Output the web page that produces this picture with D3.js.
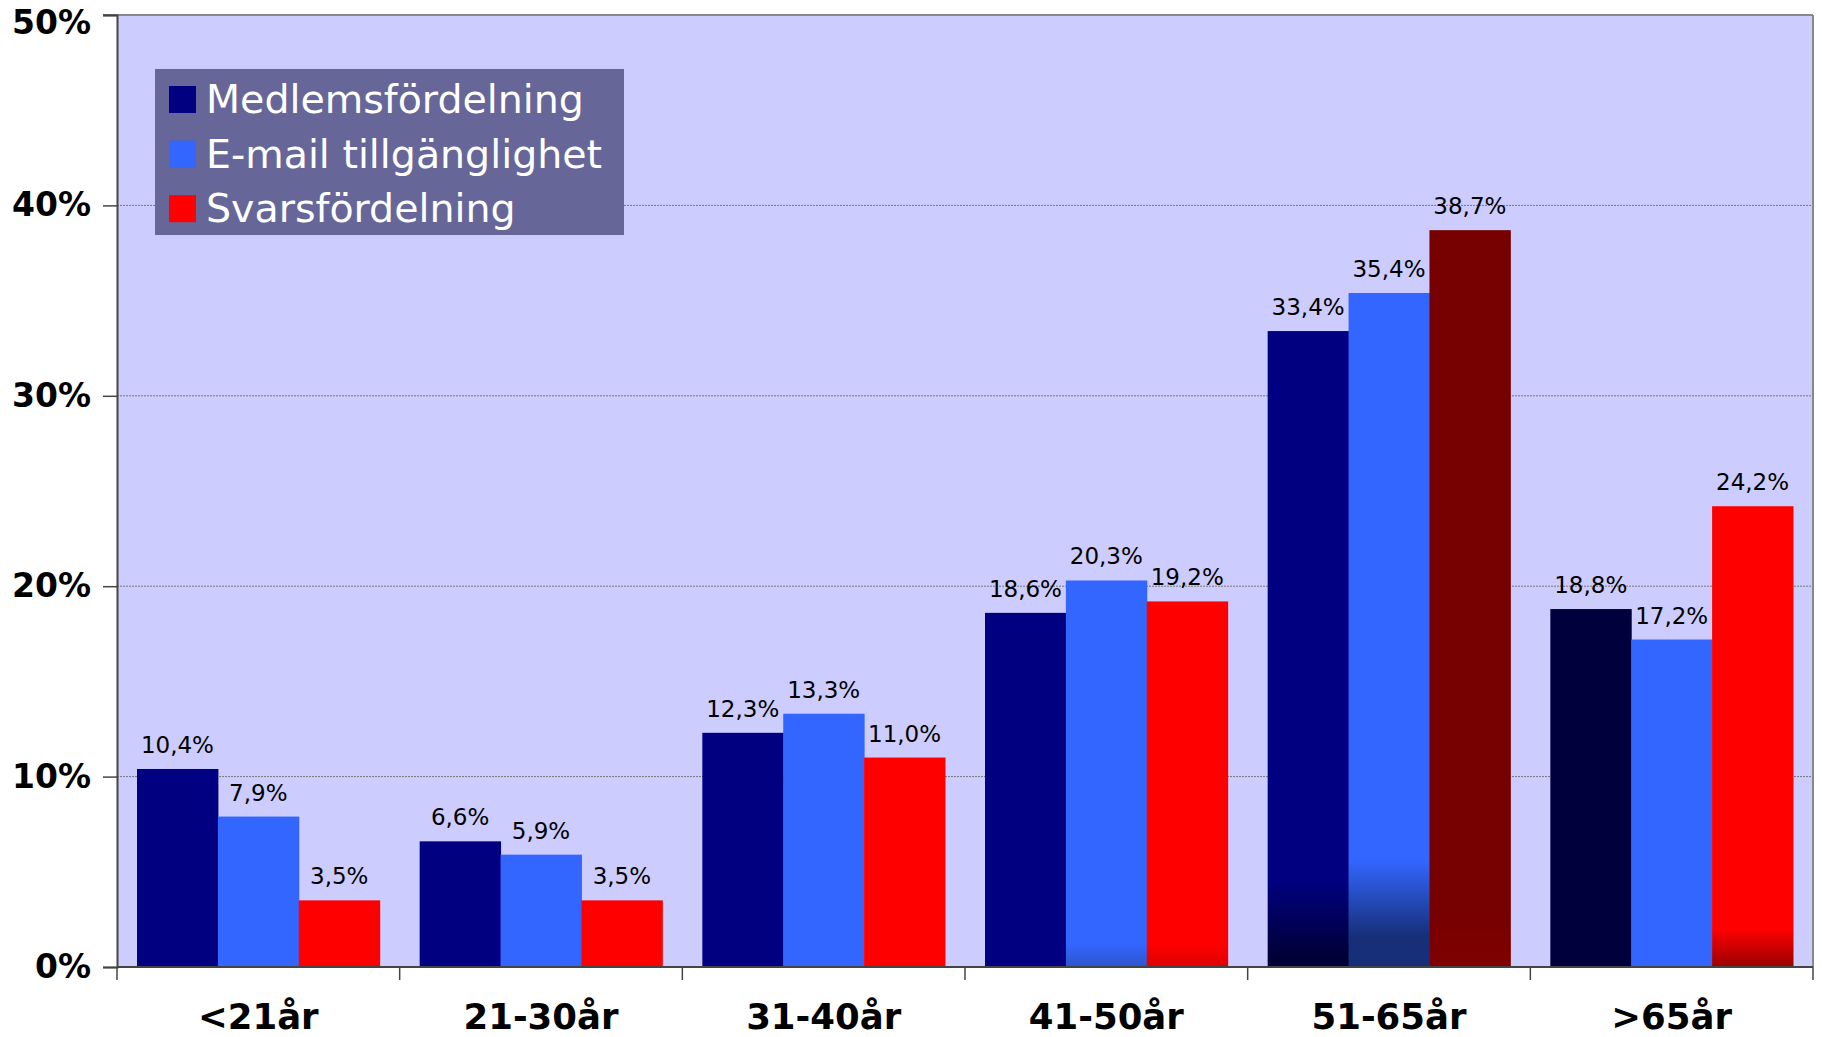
<!DOCTYPE html>
<html>
<head>
<meta charset="utf-8">
<script src="https://cdn.jsdelivr.net/npm/d3@7"></script>
<style>
  body { margin: 0; background: #fff; }
</style>
</head>
<body>
<script>
var width = 1822;
var height = 1037;

var categories = ['<21år', '21-30år', '31-40år', '41-50år', '51-65år', '>65år'];
var seriesNames = ['Medlemsfördelning', 'E-mail tillgänglighet', 'Svarsfördelning'];
var medlemsValues = [10.4, 6.6, 12.3, 18.6, 33.4, 18.8];
var emailValues = [7.9, 5.9, 13.3, 20.3, 35.4, 17.2];
var svarsValues = [3.5, 3.5, 11.0, 19.2, 38.7, 24.2];
var yTicks = [0, 10, 20, 30, 40, 50];

var seriesColors = ['#000080', '#3366ff', '#ff0000'];
// a few bars are drawn in a different shade / fade to darker at the bottom
var barShades = [
  {cat: '41-50år', s: 1, top: '#3366ff', bottom: '#3055cc', from: 1.2, to: 0},
  {cat: '41-50år', s: 2, top: '#ff0000', bottom: '#dd0000', from: 1.2, to: 0},
  {cat: '51-65år', s: 0, top: '#000080', bottom: '#000036', from: 4.5, to: 0.5},
  {cat: '51-65år', s: 1, top: '#3366ff', bottom: '#172f78', from: 5.6, to: 1.6},
  {cat: '51-65år', s: 2, top: '#770000', bottom: '#800000', from: 3, to: 0},
  {cat: '>65år', s: 0, top: '#00003d', bottom: '#00003d', from: 1, to: 0},
  {cat: '>65år', s: 2, top: '#ff0000', bottom: '#990000', from: 2, to: 0}
];

var allValues = [medlemsValues, emailValues, svarsValues];

var margin = {left: 117, right: 9, top: 15, bottom: 70};

var svg = d3.select('body').append('svg')
  .attr('width', width).attr('height', height);

var x0 = d3.scaleBand().domain(categories)
  .range([margin.left, width - margin.right]);
var x1 = d3.scaleBand().domain(d3.range(3))
  .range([20, x0.bandwidth() - 20]);
var y = d3.scaleLinear().domain([0, 50])
  .range([height - margin.bottom, margin.top]);

// plot background
svg.append('rect')
  .attr('x', margin.left).attr('y', y(50))
  .attr('width', width - margin.right - margin.left)
  .attr('height', y(0) - y(50))
  .style('fill', '#ccccff');

// gridlines
svg.selectAll('.grid').data(yTicks.slice(1, 5)).enter().append('line')
  .attr('x1', margin.left).attr('x2', width - margin.right)
  .attr('y1', function(d) { return y(d); })
  .attr('y2', function(d) { return y(d); })
  .style('stroke', '#777').style('stroke-width', 1)
  .style('stroke-dasharray', '2,1');

// top and right border
svg.append('line')
  .attr('x1', margin.left - 14).attr('x2', width - margin.right)
  .attr('y1', y(50)).attr('y2', y(50))
  .style('stroke', '#888').style('stroke-width', 2);
svg.append('line')
  .attr('x1', width - margin.right).attr('x2', width - margin.right)
  .attr('y1', y(50)).attr('y2', y(0))
  .style('stroke', '#888').style('stroke-width', 2);

// gradients
var defs = svg.append('defs');
barShades.forEach(function(d, i) {
  var g = defs.append('linearGradient')
    .attr('id', 'shade' + i)
    .attr('gradientUnits', 'userSpaceOnUse')
    .attr('x1', 0).attr('x2', 0)
    .attr('y1', y(d.from)).attr('y2', y(d.to));
  g.append('stop').attr('offset', 0).attr('stop-color', d.top);
  g.append('stop').attr('offset', 1).attr('stop-color', d.bottom);
});

var fillFor = function(cat, s) {
  for (var i = 0; i < barShades.length; i++) {
    if (barShades[i].cat === cat && barShades[i].s === s) return 'url(#shade' + i + ')';
  }
  return seriesColors[s];
};

var barData = [];
categories.forEach(function(cat, ci) {
  allValues.forEach(function(vals, s) {
    barData.push({cat: cat, s: s, v: vals[ci]});
  });
});

svg.selectAll('rect.bar').data(barData).enter().append('rect')
  .attr('class', 'bar')
  .attr('x', function(d) { return x0(d.cat) + x1(d.s); })
  .attr('y', function(d) { return y(d.v); })
  .attr('width', x1.bandwidth() + 0.5)
  .attr('height', function(d) { return y(0) - y(d.v); })
  .style('fill', function(d) { return fillFor(d.cat, d.s); });

svg.selectAll('text.val').data(barData).enter().append('text')
  .attr('class', 'val')
  .attr('x', function(d) { return x0(d.cat) + x1(d.s) + x1.bandwidth() / 2; })
  .attr('y', function(d) { return y(d.v) - 16; })
  .attr('text-anchor', 'middle')
  .style('font-family', '"DejaVu Sans", Verdana, sans-serif')
  .style('font-size', '23px')
  .style('fill', '#000')
  .text(function(d) { return d.v.toFixed(1).replace('.', ',') + '%'; });

// axes
var yAxis = d3.axisLeft(y).tickValues(yTicks)
  .tickSize(14).tickPadding(12)
  .tickFormat(function(d) { return d + '%'; });
var gy = svg.append('g').attr('transform', 'translate(' + margin.left + ',0)').call(yAxis);
gy.select('.domain').style('stroke', '#444').style('stroke-width', 2);
gy.selectAll('.tick line').style('stroke', '#444').style('stroke-width', 1.5);
gy.selectAll('.tick text')
  .attr('dy', function(d) { return d === 50 ? '0.55em' : '0.32em'; })
  .style('font-family', '"DejaVu Sans", Verdana, sans-serif')
  .style('font-weight', 'bold').style('font-size', '33px').style('fill', '#000');

var gx = svg.append('g').attr('transform', 'translate(0,' + y(0) + ')');
gx.append('line')
  .attr('x1', margin.left).attr('x2', width - margin.right)
  .style('stroke', '#444').style('stroke-width', 2);
gx.selectAll('.xtick').data(categories.concat(['end'])).enter().append('line')
  .attr('x1', function(d, i) { return i < categories.length ? x0(d) : x0.range()[1]; })
  .attr('x2', function(d, i) { return i < categories.length ? x0(d) : x0.range()[1]; })
  .attr('y1', 0).attr('y2', 13)
  .style('stroke', '#444').style('stroke-width', 1.5);
gx.selectAll('.xlabel').data(categories).enter().append('text')
  .attr('x', function(d) { return x0(d) + x0.bandwidth() / 2; })
  .attr('y', 62)
  .attr('text-anchor', 'middle')
  .style('font-family', '"DejaVu Sans", Verdana, sans-serif')
  .style('font-weight', 'bold').style('font-size', '35.5px').style('fill', '#000')
  .text(function(d) { return d; });

// legend
var legend = svg.append('g').attr('transform', 'translate(155,69)');
legend.append('rect')
  .attr('width', 469).attr('height', 166)
  .style('fill', '#666699');
var items = legend.selectAll('.item').data(seriesNames).enter().append('g')
  .attr('transform', function(d, i) { return 'translate(14,' + (17 + i * 54.6) + ')'; });
items.append('rect')
  .attr('width', 27).attr('height', 27)
  .style('fill', function(d, i) { return seriesColors[i]; });
items.append('text')
  .attr('x', 37).attr('y', 27)
  .style('font-family', '"DejaVu Sans", Verdana, sans-serif')
  .style('font-size', '39.5px').style('fill', '#fff')
  .text(function(d) { return d; });
</script>
</body>
</html>
